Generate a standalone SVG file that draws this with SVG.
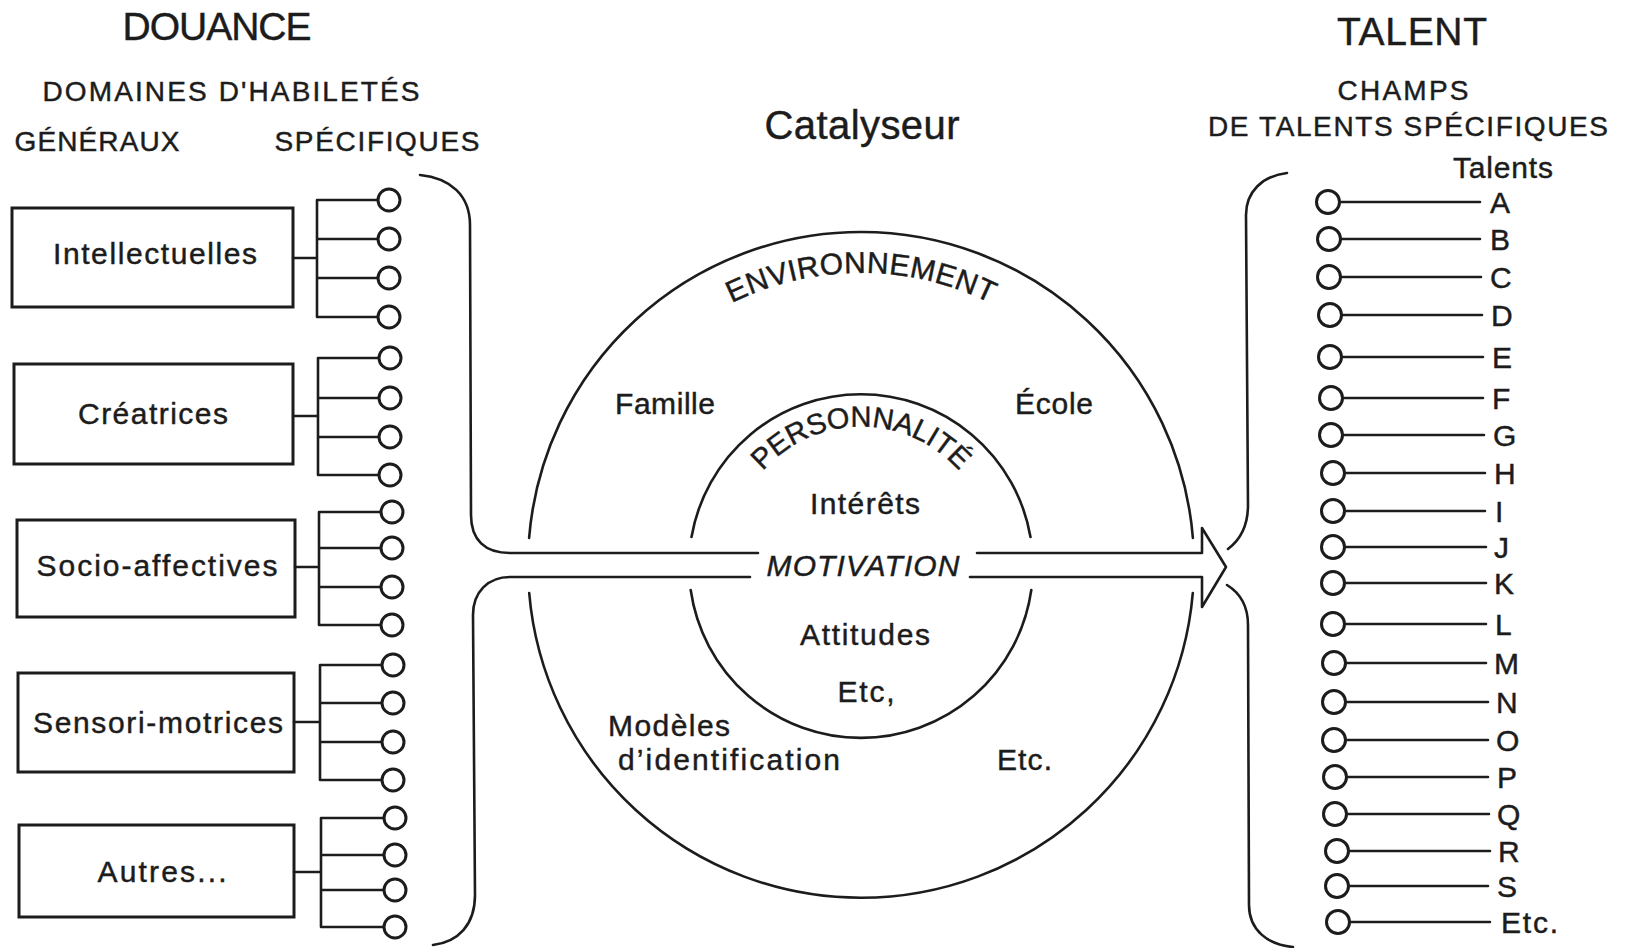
<svg xmlns="http://www.w3.org/2000/svg" width="1625" height="948" viewBox="0 0 1625 948">
<defs>
<style>
.ln{fill:none;stroke:#1c1c1c;stroke-width:2.6;stroke-linecap:round;stroke-linejoin:round}
.bx{fill:none;stroke:#1c1c1c;stroke-width:3}
.dot{fill:#fff;stroke:#1c1c1c;stroke-width:3}
.t{font-family:"Liberation Sans",Arial,sans-serif;fill:#1c1c1c;stroke:#1c1c1c;stroke-width:0.45}
.lab{font-size:30px}
.hd{font-size:28px}
.big{font-size:39px}
.mid{text-anchor:middle}
</style>
<path id="arcEnv" d="M 608.1 419 A 292 292 0 0 1 1113.9 419"/>
<path id="arcPers" d="M 748.4 490.8 A 131 131 0 0 1 973.6 490.8"/>
</defs>
<rect width="1625" height="948" fill="#fff"/>

<g id="titles">
<text class="t big" x="217" y="40" text-anchor="middle" textLength="189" lengthAdjust="spacing">DOUANCE</text>
<text class="t hd" x="231" y="101" text-anchor="middle" textLength="377" lengthAdjust="spacing">DOMAINES D'HABILETÉS</text>
<text class="t hd" x="97" y="151" text-anchor="middle" textLength="165" lengthAdjust="spacing">GÉNÉRAUX</text>
<text class="t hd" x="377" y="151" text-anchor="middle" textLength="205" lengthAdjust="spacing">SPÉCIFIQUES</text>
<text class="t" x="862" y="139" font-size="40" text-anchor="middle" textLength="195" lengthAdjust="spacing">Catalyseur</text>
<text class="t big" x="1412" y="45" text-anchor="middle" textLength="150" lengthAdjust="spacing">TALENT</text>
<text class="t hd" x="1403" y="100" text-anchor="middle" textLength="131" lengthAdjust="spacing">CHAMPS</text>
<text class="t hd" x="1408" y="136" text-anchor="middle" textLength="400" lengthAdjust="spacing">DE TALENTS SPÉCIFIQUES</text>
<text class="t lab" x="1503" y="178" text-anchor="middle" textLength="100" lengthAdjust="spacing">Talents</text>
</g>

<g id="connectors">
<path class="ln" d="M293 258H317M317 200V317M317 200H378M317 239H378M317 278H378M317 317H378"/>
<path class="ln" d="M293 416H318M318 358V475M318 358H379M318 398H379M318 437H379M318 475H379"/>
<path class="ln" d="M295 567H319M319 512V625M319 512H381M319 548H381M319 587H381M319 625H381"/>
<path class="ln" d="M294 722H320M320 665V780M320 665H382M320 703H382M320 742H382M320 780H382"/>
<path class="ln" d="M294 872H321M321 818V927M321 818H384M321 855H384M321 890H384M321 927H384"/>
<path class="ln" d="M420 175C450 178 470 195 470 225L471 515C471 540 485 553 510 553L758 553"/>
<path class="ln" d="M750 577L510 577C488 577 473 592 473 615L475 895C475 925 458 942 433 945"/>
<path class="ln" d="M977 553L1202 553L1202 528L1226 567L1202 607L1202 577L970 577"/>
<path class="ln" d="M1287 173C1262 176 1246 192 1246 215L1248 505C1248 525 1240 540 1228 549"/>
<path class="ln" d="M1227 585C1240 593 1248 605 1248 625L1249 905C1249 930 1268 945 1293 947"/>
<path class="ln" d="M1340 202H1480M1341 239H1480M1341 277H1481M1342 315H1482M1342 357H1483M1343 398H1483M1343 435H1484M1345 473H1485M1345 511H1485M1345 547H1486M1345 583H1486M1345 624H1486M1346 663H1486M1346 702H1488M1346 740H1488M1347 777H1488M1347 814H1489M1349 851H1490M1349 886H1488M1350 922H1490"/>
</g>

<g id="node-intellectuelles">
<rect class="bx" x="12" y="208" width="281" height="99"/>
<text class="t lab mid" x="155" y="264" textLength="204" lengthAdjust="spacing">Intellectuelles</text>
<circle class="dot" cx="389" cy="200" r="11"/><circle class="dot" cx="389" cy="239" r="11"/><circle class="dot" cx="389" cy="278" r="11"/><circle class="dot" cx="389" cy="317" r="11"/>
</g>
<g id="node-creatrices">
<rect class="bx" x="14" y="364" width="279" height="100"/>
<text class="t lab mid" x="153" y="424" textLength="150" lengthAdjust="spacing">Créatrices</text>
<circle class="dot" cx="390" cy="358" r="11"/><circle class="dot" cx="390" cy="398" r="11"/><circle class="dot" cx="390" cy="437" r="11"/><circle class="dot" cx="390" cy="475" r="11"/>
</g>
<g id="node-socio-affectives">
<rect class="bx" x="17" y="520" width="278" height="97"/>
<text class="t lab mid" x="157" y="576" textLength="241" lengthAdjust="spacing">Socio-affectives</text>
<circle class="dot" cx="392" cy="512" r="11"/><circle class="dot" cx="392" cy="548" r="11"/><circle class="dot" cx="392" cy="587" r="11"/><circle class="dot" cx="392" cy="625" r="11"/>
</g>
<g id="node-sensori-motrices">
<rect class="bx" x="18" y="673" width="276" height="99"/>
<text class="t lab mid" x="158" y="733" textLength="250" lengthAdjust="spacing">Sensori-motrices</text>
<circle class="dot" cx="393" cy="665" r="11"/><circle class="dot" cx="393" cy="703" r="11"/><circle class="dot" cx="393" cy="742" r="11"/><circle class="dot" cx="393" cy="780" r="11"/>
</g>
<g id="node-autres">
<rect class="bx" x="19" y="825" width="275" height="92"/>
<text class="t lab mid" x="162" y="882" textLength="129" lengthAdjust="spacing">Autres...</text>
<circle class="dot" cx="395" cy="818" r="11"/><circle class="dot" cx="395" cy="855" r="11"/><circle class="dot" cx="395" cy="890" r="11"/><circle class="dot" cx="395" cy="927" r="11"/>
</g>

<g id="node-environnement">
<path class="ln" d="M529.1 538A333 333 0 0 1 1192.9 538"/>
<path class="ln" d="M1192.8 593A333 333 0 0 1 529.2 593"/>
<text class="t" font-size="30"><textPath href="#arcEnv" startOffset="50%" text-anchor="middle" textLength="268" lengthAdjust="spacing">ENVIRONNEMENT</textPath></text>
<text class="t lab mid" x="665" y="414" textLength="100" lengthAdjust="spacing">Famille</text>
<text class="t lab mid" x="1054" y="414" textLength="78" lengthAdjust="spacing">École</text>
<text class="t lab" x="608" y="736" textLength="122" lengthAdjust="spacing">Modèles</text>
<text class="t lab" x="618" y="770" textLength="222" lengthAdjust="spacing">d’identification</text>
<text class="t lab" x="997" y="770" textLength="55" lengthAdjust="spacing">Etc.</text>
</g>

<g id="node-personnalite">
<path class="ln" d="M691.5 537A172 172 0 0 1 1030.5 537"/>
<path class="ln" d="M1031.3 590A172 172 0 0 1 690.7 590"/>
<text class="t" font-size="29"><textPath href="#arcPers" startOffset="50%" text-anchor="middle" textLength="222" lengthAdjust="spacing">PERSONNALITÉ</textPath></text>
<text class="t lab mid" x="865" y="514" textLength="110" lengthAdjust="spacing">Intérêts</text>
<text class="t lab mid" x="865" y="645" textLength="130" lengthAdjust="spacing">Attitudes</text>
<text class="t lab mid" x="866" y="702" textLength="57" lengthAdjust="spacing">Etc,</text>
</g>

<g id="node-motivation">
<text class="t mid" x="863" y="576" font-size="30" font-style="italic" textLength="193" lengthAdjust="spacing">MOTIVATION</text>
</g>

<g id="node-talents">
<circle class="dot" cx="1328" cy="202" r="11.5"/><circle class="dot" cx="1329" cy="239" r="11.5"/><circle class="dot" cx="1329" cy="277" r="11.5"/><circle class="dot" cx="1330" cy="315" r="11.5"/><circle class="dot" cx="1330" cy="357" r="11.5"/><circle class="dot" cx="1331" cy="398" r="11.5"/><circle class="dot" cx="1331" cy="435" r="11.5"/><circle class="dot" cx="1333" cy="473" r="11.5"/><circle class="dot" cx="1333" cy="511" r="11.5"/><circle class="dot" cx="1333" cy="547" r="11.5"/><circle class="dot" cx="1333" cy="583" r="11.5"/><circle class="dot" cx="1333" cy="624" r="11.5"/><circle class="dot" cx="1334" cy="663" r="11.5"/><circle class="dot" cx="1334" cy="702" r="11.5"/><circle class="dot" cx="1334" cy="740" r="11.5"/><circle class="dot" cx="1335" cy="777" r="11.5"/><circle class="dot" cx="1335" cy="814" r="11.5"/><circle class="dot" cx="1337" cy="851" r="11.5"/><circle class="dot" cx="1337" cy="886" r="11.5"/><circle class="dot" cx="1338" cy="922" r="11.5"/>
<g class="t" font-size="30">
<text x="1490" y="213">A</text><text x="1490" y="250">B</text><text x="1490" y="288">C</text><text x="1491" y="326">D</text><text x="1492" y="368">E</text><text x="1492" y="409">F</text><text x="1493" y="446">G</text><text x="1494" y="484">H</text><text x="1495" y="522">I</text><text x="1494" y="558">J</text><text x="1494" y="594">K</text><text x="1495" y="635">L</text><text x="1494" y="674">M</text><text x="1496" y="713">N</text><text x="1496" y="751">O</text><text x="1497" y="788">P</text><text x="1497" y="825">Q</text><text x="1498" y="862">R</text><text x="1497" y="897">S</text><text x="1501" y="933" textLength="57" lengthAdjust="spacing">Etc.</text>
</g>
</g>
</svg>
